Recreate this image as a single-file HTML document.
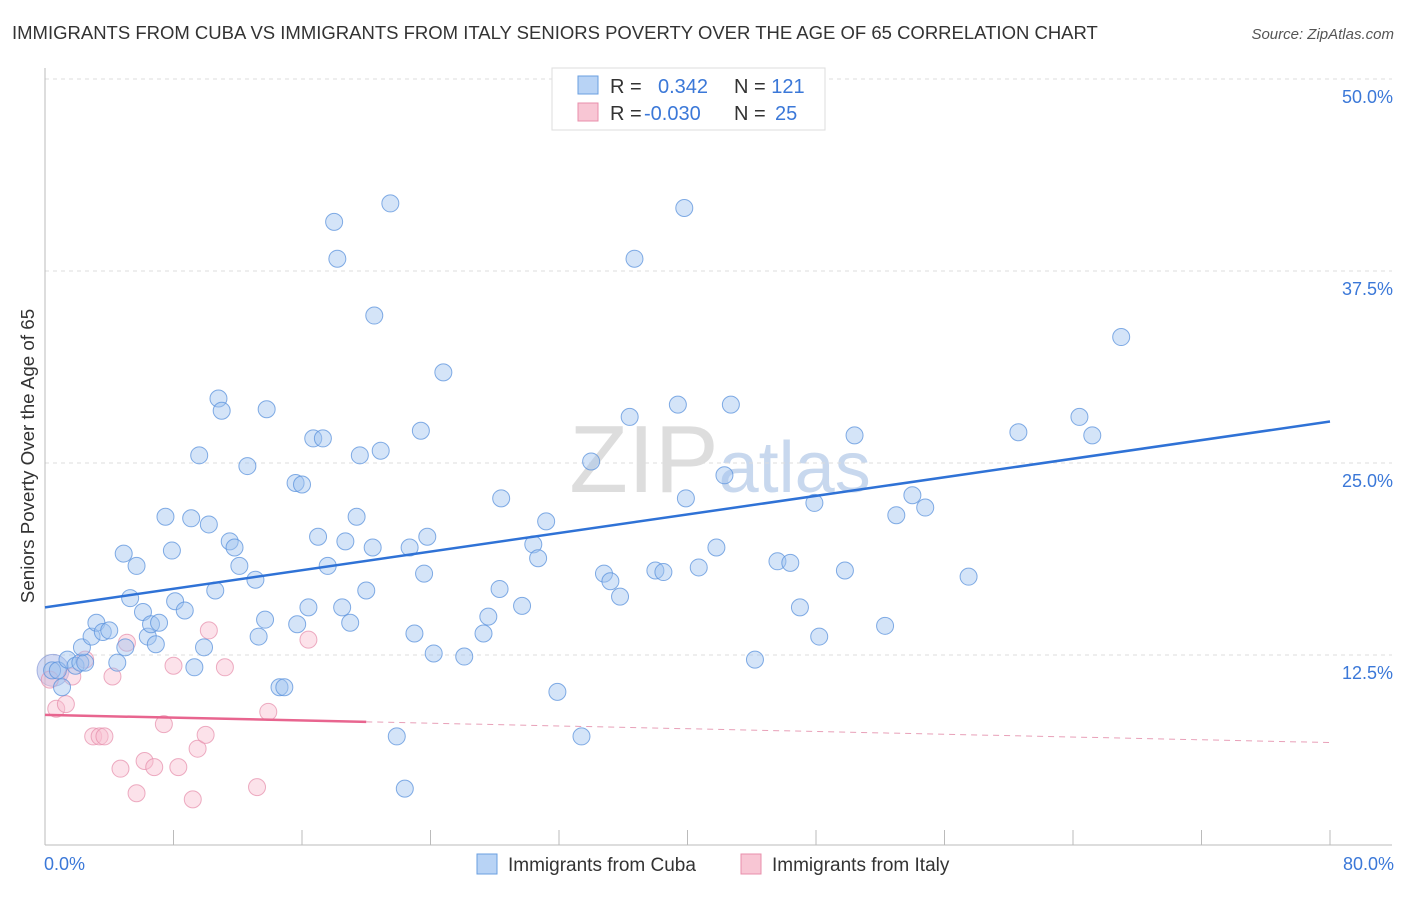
<!DOCTYPE html>
<html><head><meta charset="utf-8"><style>
body{margin:0;background:#fff;font-family:"Liberation Sans",sans-serif;}
svg text{font-family:"Liberation Sans",sans-serif;}
</style></head><body>
<svg width="1406" height="892">
<text x="12" y="39" font-size="18.5" fill="#333">IMMIGRANTS FROM CUBA VS IMMIGRANTS FROM ITALY SENIORS POVERTY OVER THE AGE OF 65 CORRELATION CHART</text>
<text x="1394" y="39" font-size="15" fill="#555" font-style="italic" text-anchor="end">Source: ZipAtlas.com</text>
<text x="720" y="492" font-size="96" fill="#ddd" text-anchor="middle" font-family="Liberation Serif">ZIP<tspan font-family="Liberation Sans" font-size="72" fill="#c8d8ee">atlas</tspan></text>
<g id="grid"></g><g id="axes"></g><g id="pts"></g><g id="lines"></g>
<text transform="translate(34,456) rotate(-90)" font-size="18.8" fill="#333" text-anchor="middle">Seniors Poverty Over the Age of 65</text>
<g>
<rect x="552" y="68" width="273" height="62" fill="#fff" stroke="#ddd"/>
<rect x="578" y="76" width="20" height="18" fill="#b8d3f5" stroke="#6a9fe0"/>
<rect x="578" y="103" width="20" height="18" fill="#f8c6d4" stroke="#e88fab"/>
<text x="610" y="93" font-size="20" fill="#333">R = <tspan fill="#3b78d8" x="658">0.342</tspan><tspan x="734" fill="#333">N = </tspan><tspan fill="#3b78d8">121</tspan></text>
<text x="610" y="120" font-size="20" fill="#333">R = <tspan fill="#3b78d8" x="644">-0.030</tspan><tspan x="734" fill="#333">N = </tspan><tspan fill="#3b78d8" x="775">25</tspan></text>
</g>
<g>
<rect x="477" y="854" width="20" height="20" fill="#b8d3f5" stroke="#6a9fe0"/>
<text x="508" y="871" font-size="19" fill="#333">Immigrants from Cuba</text>
<rect x="741" y="854" width="20" height="20" fill="#f8c6d4" stroke="#e88fab"/>
<text x="772" y="871" font-size="19" fill="#333">Immigrants from Italy</text>
</g>
</svg>
<script>
const yTicks=[12.5,25,37.5,50];
const yTickLabels=["12.5%","25.0%","37.5%","50.0%"];
const xTickLabels=["0.0%","80.0%"];
const cubaX=[0.44,0.8,1.06,1.4,1.9,2.2,2.5,2.3,2.9,3.2,3.6,4.0,4.5,5.0,4.9,5.7,5.3,6.1,6.4,6.6,6.9,7.1,7.5,7.9,8.1,8.7,9.1,9.3,9.6,9.9,10.2,10.6,10.8,11.0,11.5,11.8,12.1,12.6,13.1,13.3,13.7,13.8,14.6,14.9,15.6,16.0,15.7,16.4,16.7,17.3,17.0,17.6,18.0,18.2,18.5,18.7,19.0,19.4,19.6,20.0,20.4,20.5,20.9,21.5,21.9,22.4,22.7,23.0,23.4,23.6,23.8,24.2,24.8,26.1,27.3,27.6,28.3,28.4,29.7,30.4,30.7,31.2,31.9,33.4,34.0,34.8,35.2,35.8,36.4,36.7,38.0,38.5,39.4,39.8,39.9,40.7,41.8,42.3,42.7,44.2,45.6,46.4,47.0,47.9,48.2,49.8,50.4,52.3,53.0,54.0,54.8,57.5,60.6,64.4,65.2,67.0];
const cubaY=[11.5,11.5,10.4,12.2,11.8,12.0,12.0,13.0,13.7,14.6,14.0,14.1,12.0,13.0,19.1,18.3,16.2,15.3,13.7,14.5,13.2,14.6,21.5,19.3,16.0,15.4,21.4,11.7,25.5,13.0,21.0,16.7,29.2,28.4,19.9,19.5,18.3,24.8,17.4,13.7,14.8,28.5,10.4,10.4,23.7,23.6,14.5,15.6,26.6,26.6,20.2,18.3,40.7,38.3,15.6,19.9,14.6,21.5,25.5,16.7,19.5,34.6,25.8,41.9,7.2,3.8,19.5,13.9,27.1,17.8,20.2,12.6,30.9,12.4,13.9,15.0,16.8,22.7,15.7,19.7,18.8,21.2,10.1,7.2,25.1,17.8,17.3,16.3,28.0,38.3,18.0,17.9,28.8,41.6,22.7,18.2,19.5,24.2,28.8,12.2,18.6,18.5,15.6,22.4,13.7,18.0,26.8,14.4,21.6,22.9,22.1,17.6,27.0,28.0,26.8,33.2];
const italyX=[0.3,0.7,1.3,1.7,2.5,4.2,5.1,3.0,3.4,3.7,4.7,5.7,6.2,6.8,7.4,8.0,8.3,9.2,9.5,10.0,10.2,11.2,13.2,13.9,16.4];
const italyY=[10.9,9.0,9.3,11.1,12.2,11.1,13.3,7.2,7.2,7.2,5.1,3.5,5.6,5.2,8.0,11.8,5.2,3.1,6.4,7.3,14.1,11.7,3.9,8.8,13.5];
const cubaFit=[15.6,27.7];
const italyFit=[8.6,6.8];
const italySolidEnd=20;

const X0=45,X1=1330,Y0=847,PXPER=15.36;
const sx=v=>X0+(v/80)*(X1-X0);
const sy=v=>Y0-v*PXPER;
const NS="http://www.w3.org/2000/svg";
function mk(tag,attrs,parent){const e=document.createElementNS(NS,tag);for(const k in attrs)e.setAttribute(k,attrs[k]);parent.appendChild(e);return e;}
const grid=document.getElementById('grid'),axes=document.getElementById('axes'),pts=document.getElementById('pts'),lines=document.getElementById('lines');
yTicks.forEach((t,i)=>{
  const g=mk('line',{x1:X0,x2:1392,y1:sy(t),y2:sy(t),stroke:'#ddd','stroke-dasharray':'4,4'},grid);
  
  
  const tx=mk('text',{x:1393,y:sy(t)+24,'font-size':18,fill:'#3b78d8','text-anchor':'end'},grid);
  tx.textContent=yTickLabels[i];
  
  
});
const la=mk('line',{x1:X0,x2:X0,y1:68,y2:845,stroke:'#bbb'},axes);


const ba=mk('line',{x1:X0,x2:1392,y1:845,y2:845,stroke:'#bbb'},axes);


for(let i=0;i<=10;i++){
  const t=mk('line',{x1:sx(i*8),x2:sx(i*8),y1:830,y2:845,stroke:'#bbb'},axes);
  
  
}
[[0,'start',44],[80,'end',1394]].forEach((d,i)=>{
  const t=mk('text',{x:d[2],y:870,'font-size':18,fill:'#3b78d8','text-anchor':d[1]},axes);
  t.textContent=xTickLabels[i];
  
  
});
const big1=mk('circle',{cx:sx(0.5),cy:sy(11.5),r:16,fill:'rgba(130,150,220,0.35)',stroke:'rgba(120,140,210,0.6)'},pts);


italyX.forEach((x,i)=>{
  const c=mk('circle',{cx:sx(x),cy:sy(italyY[i]),r:8.5,fill:'rgba(248,190,208,0.45)',stroke:'rgba(230,140,170,0.7)'},pts);
  
  
});
cubaX.forEach((x,i)=>{
  const c=mk('circle',{cx:sx(x),cy:sy(cubaY[i]),r:8.5,fill:'rgba(160,196,240,0.45)',stroke:'rgba(90,145,220,0.75)'},pts);
  
  
});
const bl=mk('line',{x1:sx(0),y1:sy(cubaFit[0]),x2:sx(80),y2:sy(cubaFit[1]),stroke:'#2f72d6','stroke-width':2.5},lines);


const iy=x=>italyFit[0]+(italyFit[1]-italyFit[0])*x/80;
const pl=mk('line',{x1:sx(0),y1:sy(iy(0)),x2:sx(italySolidEnd),y2:sy(iy(italySolidEnd)),stroke:'#e8658f','stroke-width':2.5},lines);


const pd=mk('line',{x1:sx(italySolidEnd),y1:sy(iy(italySolidEnd)),x2:sx(80),y2:sy(iy(80)),stroke:'#e8a0b8','stroke-width':1,'stroke-dasharray':'6,5'},lines);


</script>
</body></html>
